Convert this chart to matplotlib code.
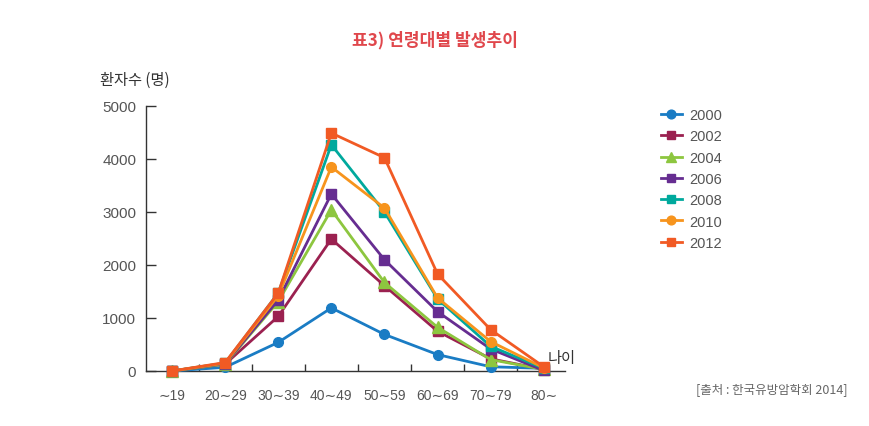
import matplotlib
matplotlib.use("Agg")
import matplotlib.pyplot as plt

plt.rcParams['font.family'] = ['Noto Sans CJK KR', 'DejaVu Sans']
NUMFONT = ['Liberation Sans', 'DejaVu Sans']

categories = ["∼19", "20∼29", "30∼39", "40∼49", "50∼59", "60∼69", "70∼79", "80∼"]
years = ["2000", "2002", "2004", "2006", "2008", "2010", "2012"]
v2000 = [0, 70, 540, 1190, 690, 310, 80, 50]
v2002 = [0, 130, 1030, 2490, 1610, 750, 230, 30]
v2004 = [0, 130, 1310, 3040, 1670, 825, 215, 30]
v2006 = [0, 140, 1340, 3340, 2100, 1120, 415, 10]
v2008 = [0, 150, 1470, 4270, 3000, 1360, 465, 50]
v2010 = [0, 150, 1420, 3850, 3075, 1380, 555, 60]
v2012 = [0, 160, 1470, 4490, 4025, 1830, 780, 80]
series = [v2000, v2002, v2004, v2006, v2008, v2010, v2012]
colors = ["#1a7cc4", "#9b2150", "#8dc63f", "#662d91", "#00a99d", "#f7941d", "#f15a24"]
markers = ["o", "s", "^", "s", "s", "o", "s"]
yticks = [0, 1000, 2000, 3000, 4000, 5000]

fig = plt.figure(figsize=(8.7, 4.27), dpi=100)
ax = fig.add_axes([146/870, 1-372/427, 419/870, 265/427])

x = list(range(len(categories)))
for vals, c, m, lab in zip(series, colors, markers, years):
    ax.plot(x, vals, color=c, marker=m, markersize=7 if m != "^" else 8,
            linewidth=2, label=lab, clip_on=False, zorder=3)

ax.set_xlim(-0.49, 7.4)
ax.set_ylim(0, 5000)
ax.set_xticks(x)
ax.set_xticklabels(categories, family=NUMFONT)
ax.set_xticks([i + 0.5 for i in range(7)], minor=True)
ax.tick_params(axis='x', which='major', length=0, pad=12, labelsize=10, labelcolor="#555555")
ax.tick_params(axis='x', which='minor', direction='in', length=5, width=1, color="#333333")
ax.set_yticks(yticks)
ax.set_yticklabels([str(v) for v in yticks], family=NUMFONT)
ax.tick_params(axis='y', direction='in', length=7, width=1, color="#333333", pad=7,
               labelsize=11, labelcolor="#555555")
for s in ["top", "right"]:
    ax.spines[s].set_visible(False)
for s in ["left", "bottom"]:
    ax.spines[s].set_color("#333333")
    ax.spines[s].set_linewidth(1)

fig.text(100/870, 1-80/427, "환자수 (명)", fontsize=11, color="#333333", va='center', ha='left')
fig.text(548/870, 1-359/427, "나이", fontsize=11, color="#333333", va='center', ha='left')
fig.text(435/870, 1-40/427, "표3) 연령대별 발생추이", fontsize=12.3, color="#e0474c",
         fontweight='bold', ha='center', va='center')
fig.text(848/870, 1-390/427, "[출처 : 한국유방암학회 2014]", fontsize=9, color="#666666",
         ha='right', va='center')

handles, labels = ax.get_legend_handles_labels()
fig.legend(handles, labels, loc='upper left', bbox_to_anchor=(648/870, 1-96/427),
           frameon=False, prop={'family': NUMFONT, 'size': 10.5}, labelcolor="#555555",
           handlelength=1.4, handletextpad=0.5, labelspacing=0.5, markerscale=0.9)

fig.savefig("out.png", dpi=100)
